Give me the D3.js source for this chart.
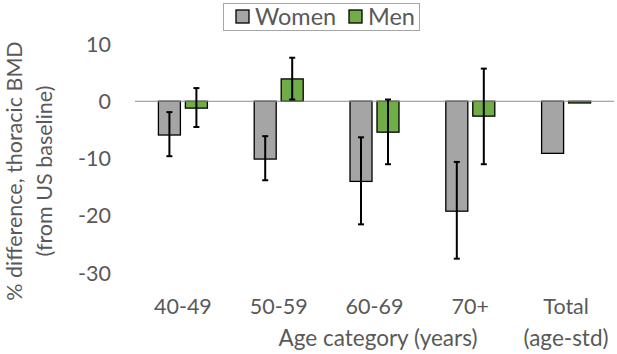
<!DOCTYPE html>
<html>
<head>
<meta charset="utf-8">
<script src="https://cdn.jsdelivr.net/npm/d3@7"></script>
<style>
  body { margin: 0; background: #fff; }
  svg { font-family: Lato, "Open Sans", sans-serif; }
</style>
</head>
<body>
<div id="showBox"></div>
<script>
// data
const categories = ["40-49", "50-59", "60-69", "70+", "Total"]
const series = ["Women", "Men"]
const womenValues = [-5.9, -10.1, -14.0, -19.2, -9.1]
const womenLow = [-9.6, -13.8, -21.5, -27.5, null]
const womenHigh = [-1.9, -6.1, -6.3, -10.6, null]
const menValues = [-1.2, 3.9, -5.4, -2.6, -0.3]
const menLow = [-4.5, 0.3, -11.0, -11.0, null]
const menHigh = [2.3, 7.6, 0.3, 5.7, null]
const yTicks = [10, 0, -10, -20, -30]
const colors = {"Women": "#a5a5a5", "Men": "#70ad47"}

const width = 617, height = 354

const rows = []
categories.forEach((c, i) => {
    rows.push({cat: c, s: "Women", v: womenValues[i], lo: womenLow[i], hi: womenHigh[i]})
    rows.push({cat: c, s: "Men", v: menValues[i], lo: menLow[i], hi: menHigh[i]})
})

const svg = d3.select("#showBox").append("svg")
    .attr("width", width)
    .attr("height", height)

const x0 = d3.scaleBand().domain(categories).range([135, 614]).padding(0)
const x1 = d3.scaleBand().domain(series).range([0, x0.bandwidth()])
    .paddingInner(0.185).paddingOuter(0.867)
const y = d3.scaleLinear().domain([-30, 10]).range([273, 44])

// y tick labels (no axis line in the reference)
svg.append("g").selectAll("text")
    .data(yTicks)
    .join("text")
    .attr("x", 111)
    .attr("y", d => y(d))
    .attr("dy", "0.35em")
    .attr("text-anchor", "end")
    .attr("fill", "#595959")
    .style("font-size", "21.5px")
    .text(d => d)

// bars
svg.append("g").selectAll("rect")
    .data(rows)
    .join("rect")
    .attr("x", d => x0(d.cat) + x1(d.s))
    .attr("y", d => Math.min(y(d.v), y(0)))
    .attr("width", x1.bandwidth())
    .attr("height", d => Math.abs(y(d.v) - y(0)))
    .attr("fill", d => colors[d.s])
    .attr("stroke", "#000")
    .attr("stroke-width", 1.3)

// zero line
svg.append("line")
    .attr("x1", 135).attr("x2", 614)
    .attr("y1", y(0)).attr("y2", y(0))
    .attr("stroke", "#8c8c8c")
    .attr("stroke-width", 1)

// error bars
const err = svg.append("g").selectAll("g")
    .data(rows.filter(d => d.lo != null))
    .join("g")
    .attr("transform", d => `translate(${x0(d.cat) + x1(d.s) + x1.bandwidth() / 2},0)`)
    .attr("stroke", "#000")
    .attr("stroke-width", 2)

err.append("line").attr("y1", d => y(d.lo)).attr("y2", d => y(d.hi))
err.append("line").attr("x1", -3).attr("x2", 3).attr("y1", d => y(d.lo)).attr("y2", d => y(d.lo))
err.append("line").attr("x1", -3).attr("x2", 3).attr("y1", d => y(d.hi)).attr("y2", d => y(d.hi))

// x labels
svg.append("g").selectAll("text")
    .data(categories)
    .join("text")
    .attr("x", d => x0(d) + x0.bandwidth() / 2)
    .attr("y", 314)
    .attr("text-anchor", "middle")
    .attr("fill", "#595959")
    .style("font-size", "21.5px")
    .text(d => d)

svg.append("text")
    .attr("x", x0("Total") + x0.bandwidth() / 2)
    .attr("y", 346)
    .attr("text-anchor", "middle")
    .attr("fill", "#595959")
    .style("font-size", "22.5px")
    .text("(age-std)")

svg.append("text")
    .attr("x", 378)
    .attr("y", 346)
    .attr("text-anchor", "middle")
    .attr("fill", "#595959")
    .style("font-size", "22.5px")
    .text("Age category (years)")

// y title
const yt = svg.append("text")
    .attr("transform", "translate(0,171) rotate(-90)")
    .attr("text-anchor", "middle")
    .attr("fill", "#595959")
    .style("font-size", "21.5px")
yt.append("tspan").attr("x", 0).attr("y", 22).text("% difference, thoracic BMD")
yt.append("tspan").attr("x", 0).attr("y", 52).text("(from US baseline)")

// legend
const lg = svg.append("g")
lg.append("rect")
    .attr("x", 223.5).attr("y", 3.5)
    .attr("width", 196).attr("height", 27)
    .attr("fill", "#fff")
    .attr("stroke", "#a6a6a6")
const lgItems = [{s: "Women", x: 236}, {s: "Men", x: 349}]
const li = lg.selectAll("g.item")
    .data(lgItems)
    .join("g")
    .attr("class", "item")
    .attr("transform", d => `translate(${d.x},10)`)
li.append("rect")
    .attr("width", 13).attr("height", 13)
    .attr("fill", d => colors[d.s])
    .attr("stroke", "#000")
    .attr("stroke-width", 1.3)
li.append("text")
    .attr("x", 19)
    .attr("y", 7)
    .attr("dy", "0.35em")
    .attr("fill", "#595959")
    .style("font-size", "23.5px")
    .text(d => d.s)
</script>
</body>
</html>
